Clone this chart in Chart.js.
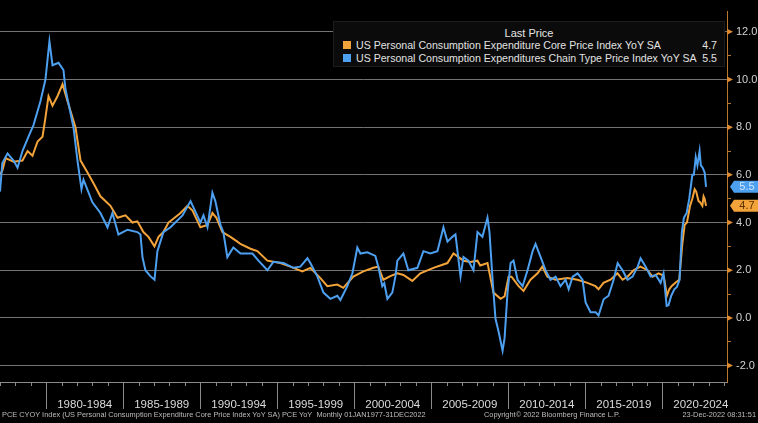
<!DOCTYPE html>
<html>
<head>
<meta charset="utf-8">
<script src="https://cdn.jsdelivr.net/npm/chart.js@4.4.1/dist/chart.umd.min.js"></script>
<style>
  html, body { margin: 0; padding: 0; background: #000; }
  #wrap { position: relative; width: 758px; height: 423px; overflow: hidden; background: #000; }
  #c { position: absolute; left: 0; top: 0; }
  #legend { position: absolute; left: 333px; top: 21px; width: 392px; height: 46px;
            background: #0b0b0b; border: 1px solid #1c1c1c; box-sizing: border-box;
            font-family: "Liberation Sans", Arial, sans-serif; color: #e2e2e2; font-size: 10.6px; }
  #legend .title { position: absolute; left: 0; right: 0; top: 5px; text-align: center; font-size: 11px; color: #e6e6e6; }
  #legend .row { position: absolute; left: 9px; right: 7px; height: 12px; line-height: 12px; }
  #legend .sw { position: absolute; left: 0; top: 2px; width: 8px; height: 8px; }
  #legend .lab { position: absolute; left: 13px; top: 0; white-space: nowrap; }
  #legend .val { position: absolute; right: 0; top: 0; }
  .foot { position: absolute; top: 410px; font-family: "Liberation Sans", Arial, sans-serif; font-size: 7.4px; color: #bdbdbd; white-space: nowrap; }
</style>
</head>
<body>
<div id="wrap">
  <canvas id="c" width="758" height="423"></canvas>
  <div id="legend">
    <div class="title">Last Price</div>
    <div class="row" style="top:17px"><div class="sw" style="background:#f2a33a"></div><div class="lab">US Personal Consumption Expenditure Core Price Index YoY SA</div><div class="val">4.7</div></div>
    <div class="row" style="top:30px"><div class="sw" style="background:#4d9ff0"></div><div class="lab">US Personal Consumption Expenditures Chain Type Price Index YoY SA</div><div class="val">5.5</div></div>
  </div>
  <div class="foot" style="left:2px">PCE CYOY Index (US Personal Consumption Expenditure Core Price Index YoY SA) PCE YoY&nbsp; Monthly 01JAN1977-31DEC2022</div>
  <div class="foot" style="left:484px">Copyright© 2022 Bloomberg Finance L.P.</div>
  <div class="foot" style="right:2px">23-Dec-2022 08:31:51</div>
</div>
<script>
// ---- data (decimal year, YoY %) ----
const headlineYears = [
  1977.00,1977.15,1977.49,1977.88,1978.14,1978.46,1978.85,1979.18,1979.63,1979.95,
  1980.21,1980.41,1980.80,1981.12,1981.25,1981.77,1982.03,1982.29,1982.42,1983.00,
  1983.52,1983.98,1984.30,1984.69,1985.28,1985.92,1986.12,1986.25,1986.44,1986.76,
  1987.03,1987.22,1987.61,1988.07,1988.85,1989.37,1990.01,1990.21,1990.47,1990.79,
  1990.98,1991.31,1991.50,1991.76,1992.15,1992.61,1993.39,1993.78,1994.36,1994.75,
  1995.40,1996.05,1996.50,1996.96,1997.15,1997.61,1998.00,1998.45,1998.90,1999.10,
  1999.55,1999.88,2000.20,2000.40,2000.85,2001.37,2001.56,2001.82,2001.95,2002.15,
  2002.47,2002.67,2002.80,2003.19,2003.51,2004.10,2004.49,2004.94,2005.40,2005.79,
  2006.05,2006.37,2006.57,2006.90,2007.09,2007.41,2007.74,2008.00,2008.32,2008.65,
  2008.78,2008.98,2009.17,2009.37,2009.63,2009.76,2009.95,2010.15,2010.34,2010.60,
  2010.93,2011.25,2011.58,2011.77,2012.10,2012.42,2012.74,2013.07,2013.39,2013.72,
  2013.92,2014.18,2014.50,2014.82,2015.02,2015.34,2015.67,2015.86,2016.19,2016.51,
  2016.84,2017.10,2017.42,2017.74,2018.07,2018.40,2018.59,2018.92,2019.24,2019.57,
  2019.89,2020.08,2020.28,2020.40,2020.58,2020.78,2020.95,2021.12,2021.27,2021.40,
  2021.58,2021.75,2021.95,2022.05,2022.17,2022.28,2022.42,2022.50,2022.62,2022.75,
  2022.84
];
const headlineValues = [
  5.3,6.5,6.9,6.6,6.3,7.0,7.6,8.1,9.1,10.0,
  11.6,10.6,10.7,10.4,9.6,8.0,6.6,5.4,5.8,4.85,
  4.4,3.8,4.4,3.5,3.7,3.6,3.5,2.55,2.0,1.75,
  1.6,2.8,3.6,3.8,4.3,4.9,4.0,4.3,3.8,5.25,
  4.9,3.9,3.6,2.55,2.95,2.7,2.7,2.4,2.0,2.35,
  2.3,2.1,2.15,2.5,2.3,1.73,1.06,0.8,0.93,0.75,
  1.33,1.87,2.95,2.7,2.75,2.6,2.15,1.33,1.45,0.8,
  1.06,1.73,2.4,2.7,2.0,2.1,2.8,2.7,2.8,3.8,
  3.2,3.4,3.5,1.73,2.55,2.4,2.0,3.6,3.4,4.2,
  3.6,1.6,-0.04,-0.57,-1.38,-0.85,1.06,2.3,2.4,1.6,
  1.33,2.0,2.8,3.1,2.55,2.0,1.6,1.73,1.33,1.6,
  1.2,1.73,1.87,1.6,0.65,0.24,0.24,0.1,0.78,0.93,
  1.6,2.3,2.0,1.6,1.73,2.15,2.5,2.15,1.73,1.8,
  1.47,1.87,0.5,0.53,0.93,1.2,1.3,1.6,3.6,4.2,
  4.4,5.0,6.0,6.0,6.75,6.4,7.0,6.4,6.3,6.1,
  5.5
];
const coreYears = [
  1977.00,1977.16,1977.36,1977.88,1978.46,1978.79,1979.11,1979.44,1979.76,1979.95,
  1980.15,1980.41,1980.73,1981.06,1981.38,1981.90,1982.23,1982.68,1983.07,1983.52,
  1984.17,1984.63,1985.15,1985.60,1985.92,1986.31,1986.64,1987.03,1987.29,1987.61,
  1987.94,1988.72,1989.17,1989.50,1990.01,1990.47,1990.79,1991.05,1991.44,1991.96,
  1992.41,1992.61,1993.26,1993.71,1994.36,1995.20,1995.85,1996.63,1997.15,1997.80,
  1998.25,1998.90,1999.29,1999.94,2000.59,2001.24,2001.56,2001.89,2002.34,2002.80,
  2003.19,2003.77,2004.29,2005.14,2006.05,2006.44,2007.09,2007.54,2008.00,2008.18,
  2008.65,2009.04,2009.50,2009.76,2010.02,2010.21,2010.67,2010.99,2011.44,2011.90,
  2012.21,2012.54,2013.06,2013.84,2014.49,2015.14,2015.66,2015.86,2016.18,2016.64,
  2017.09,2017.42,2017.74,2018.13,2018.58,2019.04,2019.37,2019.76,2020.00,2020.10,
  2020.30,2020.45,2020.60,2020.85,2021.10,2021.30,2021.45,2021.60,2021.80,2021.95,
  2022.10,2022.20,2022.35,2022.45,2022.60,2022.68,2022.75,2022.84
];
const coreValues = [
  6.0,6.2,6.7,6.55,6.6,7.0,6.8,7.4,7.6,8.4,
  9.3,8.9,9.3,9.8,9.1,8.0,6.6,6.1,5.65,5.1,
  4.7,4.2,4.3,4.0,4.05,3.6,3.4,3.0,3.4,3.6,
  4.0,4.4,4.7,4.5,3.8,3.9,4.4,4.2,3.6,3.4,
  3.2,3.1,2.9,2.8,2.4,2.3,2.15,1.95,2.1,1.67,
  1.33,1.4,1.26,1.73,1.95,2.1,2.15,1.6,1.75,1.87,
  1.8,1.55,1.87,2.1,2.3,2.7,2.4,2.35,2.4,2.2,
  2.3,1.06,0.8,0.9,1.73,1.73,1.33,1.13,1.6,1.87,
  2.15,1.73,1.6,1.67,1.6,1.47,1.33,1.2,1.47,1.6,
  1.87,1.6,1.73,2.0,2.15,2.0,1.73,1.87,1.8,1.73,
  0.93,1.2,1.33,1.47,1.6,3.1,3.9,4.0,4.7,5.0,
  5.4,5.3,4.9,4.85,4.7,5.1,5.0,4.7
];
const periodStarts = [1980,1985,1990,1995,2000,2005,2010,2015,2020];
const periodLabels = ['1980-1984','1985-1989','1990-1994','1995-1999','2000-2004','2005-2009','2010-2014','2015-2019','2020-2024'];
const yTickValues = [-2,-1,0,1,2,3,4,5,6,7,8,9,10,11,12];
const seriesNames = ['US Personal Consumption Expenditures Chain Type Price Index YoY SA','US Personal Consumption Expenditure Core Price Index YoY SA'];

const BLUE = '#4d9ff0', ORANGE = '#f2a33a', AXIS_OR = '#b8772e', GRID = '#747474', XAXIS = '#8a8a8a';

const toPoints = (xs, ys) => xs.map((x, i) => ({x: x, y: ys[i]}));

const decor = {
  id: 'decor',
  afterDraw(chart) {
    const ctx = chart.ctx, xs = chart.scales.x, ys = chart.scales.y, area = chart.chartArea;
    ctx.save();
    // yearly tick marks under the time axis
    ctx.strokeStyle = XAXIS; ctx.lineWidth = 1;
    for (let yr = Math.ceil(xs.min); yr <= Math.floor(xs.max); yr++) {
      const px = Math.round(xs.getPixelForValue(yr)) + 0.5;
      ctx.beginPath(); ctx.moveTo(px, area.bottom); ctx.lineTo(px, area.bottom + 4); ctx.stroke();
    }
    // period separators
    periodStarts.forEach(p => {
      const px = Math.round(xs.getPixelForValue(p)) + 0.5;
      ctx.beginPath(); ctx.moveTo(px, area.bottom); ctx.lineTo(px, area.bottom + 27); ctx.stroke();
    });
    // right axis arrow markers at labelled ticks
    ctx.fillStyle = '#e08a30';
    yTickValues.filter(v => v % 2 === 0).forEach(v => {
      const py = ys.getPixelForValue(v);
      ctx.beginPath(); ctx.moveTo(area.right, py - 3); ctx.lineTo(area.right + 6, py); ctx.lineTo(area.right, py + 3); ctx.closePath(); ctx.fill();
    });
    // last value tags
    const tags = [
      {ds: 0, fill: BLUE, text: '#cfe6ff'},
      {ds: 1, fill: ORANGE, text: '#5a3200'}
    ];
    ctx.font = '11px "Liberation Sans", Arial, sans-serif';
    ctx.textAlign = 'center'; ctx.textBaseline = 'middle';
    tags.forEach(t => {
      const data = chart.data.datasets[t.ds].data;
      const last = data[data.length - 1].y;
      const py = ys.getPixelForValue(last);
      const x0 = area.right + 3, x1 = area.right + 7, x2 = chart.width;
      ctx.fillStyle = t.fill;
      ctx.beginPath();
      ctx.moveTo(x0, py); ctx.lineTo(x1, py - 6); ctx.lineTo(x2, py - 6); ctx.lineTo(x2, py + 6); ctx.lineTo(x1, py + 6); ctx.closePath();
      ctx.fill();
      ctx.fillStyle = t.text;
      ctx.fillText(last.toFixed(1), (x1 + x2) / 2 + 1, py + 0.5);
    });
    ctx.restore();
  }
};

new Chart(document.getElementById('c'), {
  type: 'line',
  data: {
    datasets: [
      {label: seriesNames[0], data: toPoints(headlineYears, headlineValues), borderColor: BLUE, borderWidth: 2, pointRadius: 0, tension: 0, fill: false},
      {label: seriesNames[1], data: toPoints(coreYears, coreValues), borderColor: ORANGE, borderWidth: 2, pointRadius: 0, tension: 0, fill: false}
    ]
  },
  options: {
    responsive: false, animation: false, devicePixelRatio: 1,
    layout: {padding: 0},
    plugins: {legend: {display: false}, tooltip: {enabled: false}},
    scales: {
      x: {
        type: 'linear', position: 'bottom', min: 1977, max: 2024.2,
        afterBuildTicks: s => { s.ticks = periodStarts.map(p => ({value: p + 2.5})); },
        afterFit: s => { s.height = 41; },
        grid: {drawOnChartArea: false, drawTicks: false},
        border: {display: true, color: XAXIS, width: 1},
        ticks: {
          autoSkip: false, maxRotation: 0, minRotation: 0, padding: 16,
          color: '#dcdcdc', font: {family: '"Liberation Sans", Arial, sans-serif', size: 11.5},
          callback: (v, i) => periodLabels[i]
        }
      },
      y: {
        type: 'linear', position: 'right', min: -2.69, max: 12.85,
        afterBuildTicks: s => { s.ticks = yTickValues.map(v => ({value: v})); },
        afterFit: s => { s.width = 31; },
        grid: {
          color: c => (c.tick && c.tick.value % 2 === 0) ? GRID : 'rgba(0,0,0,0)',
          tickColor: AXIS_OR, tickLength: 4, drawTicks: true
        },
        border: {display: true, color: AXIS_OR, width: 1},
        ticks: {
          padding: 5, color: '#d2d2d2', font: {family: '"Liberation Sans", Arial, sans-serif', size: 11},
          callback: v => (v % 2 === 0 ? v.toFixed(1) : '')
        }
      }
    }
  },
  plugins: [decor]
});
</script>
</body>
</html>
